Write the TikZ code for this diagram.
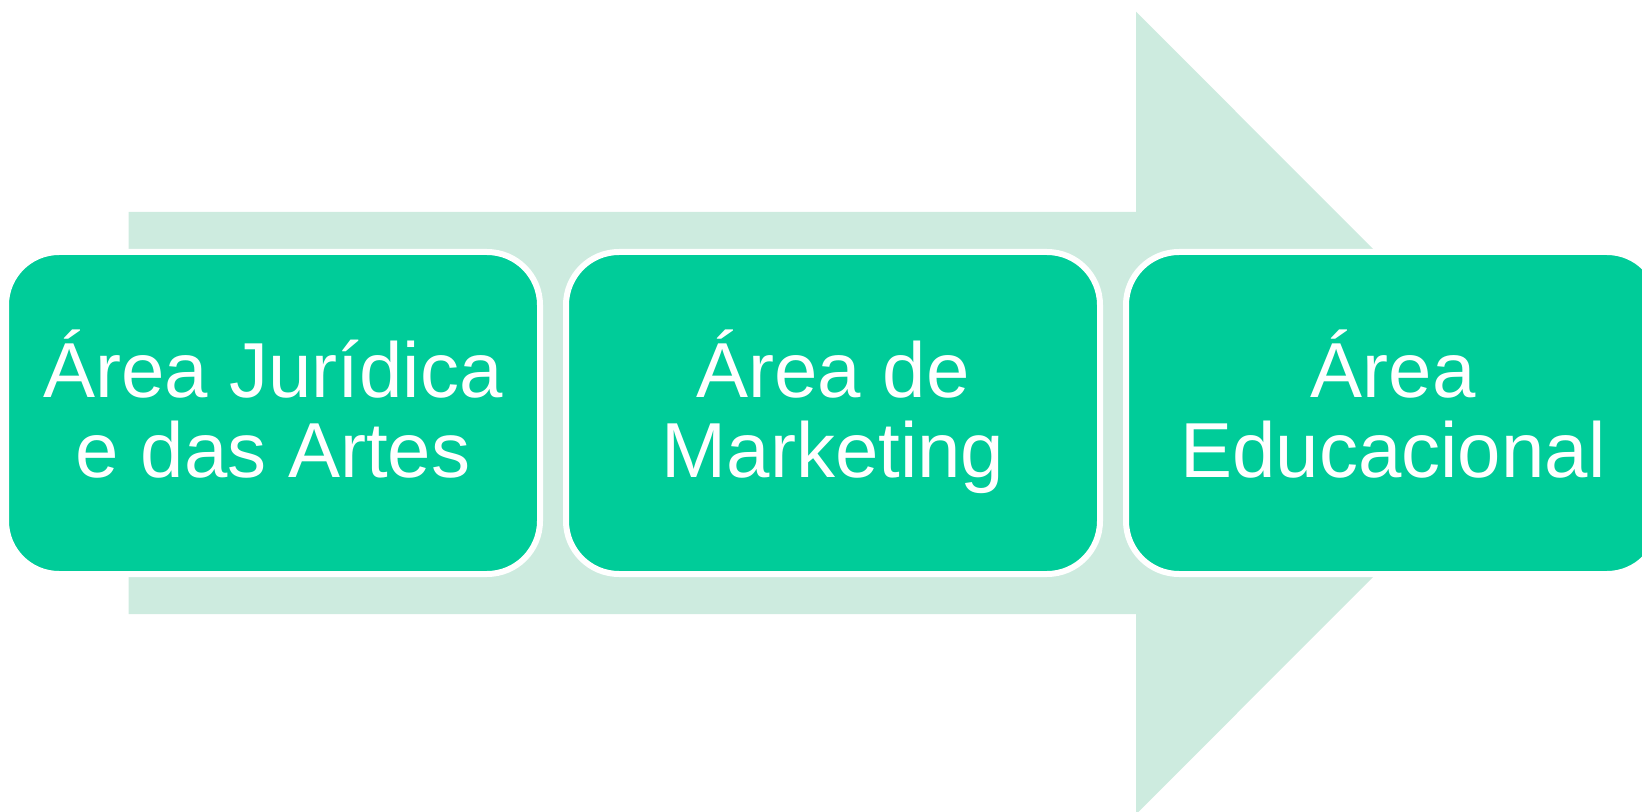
\documentclass[tikz,border=0pt]{standalone}
\usepackage{fontspec}
\setmainfont{Liberation Sans}
\definecolor{boxgreen}{RGB}{0,204,153}
\definecolor{arrowgreen}{RGB}{205,235,223}
\begin{document}
\begin{tikzpicture}[x=0.5pt,y=-0.5pt,
  stagebox/.style={draw=white, line width=3pt, fill=boxgreen, rounded corners=26.5pt,
    minimum width=267pt, minimum height=161pt, inner sep=0pt, text=white,
    align=center, font=\fontsize{39pt}{40pt}\selectfont},
  bigarrow/.style={fill=arrowgreen}
]
\useasboundingbox (0,0) rectangle (1642,812);
\clip (0,0) rectangle (1642,812);
\coordinate (s1) at (128.7,212);
\coordinate (s2) at (1136,212);
\coordinate (h1) at (1136,11.7);
\coordinate (tip) at (1537,413);
\coordinate (h2) at (1136,814.3);
\coordinate (s3) at (1136,614);
\coordinate (s4) at (128.7,614);
\fill[bigarrow] (s1) -- (s2) -- (h1) -- (tip) -- (h2) -- (s3) -- (s4) -- cycle;
\node[stagebox] (b1) at (273,413) {\rule{0pt}{39pt}Área Jurídica\\e das Artes\rule[-15pt]{0pt}{15pt}};
\node[stagebox] (b2) at (833,413) {\rule{0pt}{39pt}Área de\\Marketing\rule[-15pt]{0pt}{15pt}};
\node[stagebox] (b3) at (1393,413) {\rule{0pt}{39pt}Área\\Educacional\rule[-15pt]{0pt}{15pt}};
\end{tikzpicture}
\end{document}
